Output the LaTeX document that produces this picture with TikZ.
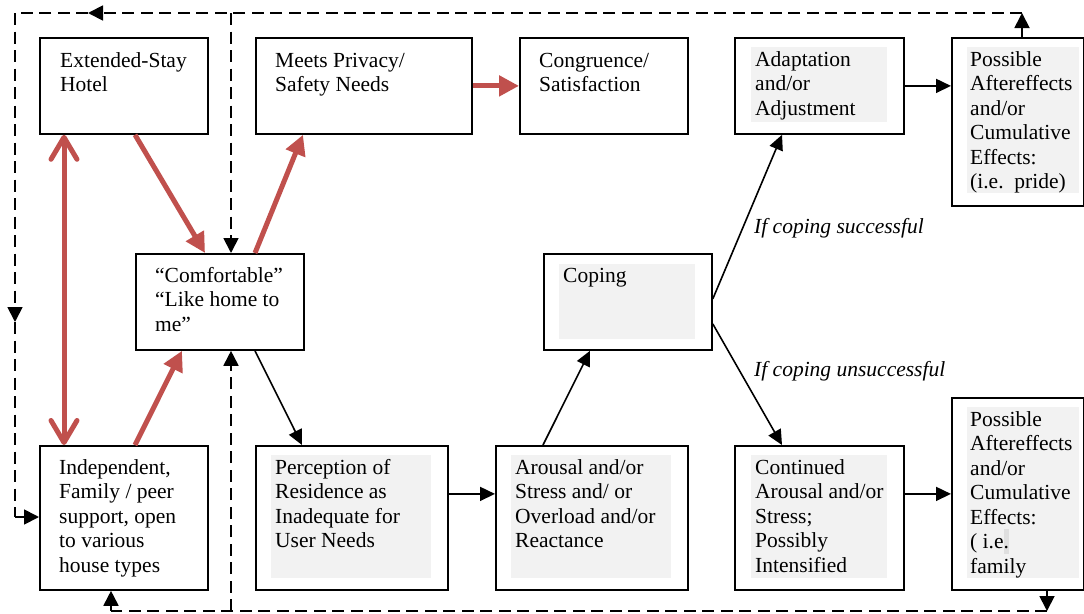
\documentclass[tikz,border=0pt]{standalone}
\usepackage{fontspec}
\setmainfont{Liberation Serif}
\usetikzlibrary{arrows.meta}
\definecolor{hotred}{HTML}{C0504D}
\definecolor{boxgray}{HTML}{F2F2F2}
\newcommand\mlines[1]{\begin{tabular}[t]{@{}l@{}}#1\end{tabular}}
\begin{document}
\begin{tikzpicture}[x=1pt,y=-1pt,
  box/.style={draw=black, line width=1.8pt, inner sep=0pt, anchor=north west},
  txt/.style={anchor=base west, inner sep=0pt, font=\fontsize{21.5}{24.5}\selectfont},
  lbl/.style={anchor=base west, inner sep=0pt, font=\fontsize{21.5}{24.5}\selectfont\itshape},
  thinarrow/.style={line width=1.6pt, -{Triangle[length=15pt,width=14pt]}},
  hot/.style={draw=hotred, line width=5pt, -{Triangle[length=20pt,width=20pt]}},
  fb/.style={line width=1.8pt, dash pattern=on 12pt off 6.5pt},
  fbtip/.style={-{Triangle[length=15pt,width=15pt]}},
  graybg/.style={fill=boxgray, draw=none}
]
\useasboundingbox (0,0) rectangle (1084,613);

% grey text backgrounds
\fill[graybg] (271,455) rectangle (431,578);
\fill[graybg] (511,455) rectangle (671,578);
\fill[graybg] (559,264) rectangle (695,339);
\fill[graybg] (751,47) rectangle (887,122);
\fill[graybg] (967,47) rectangle (1079,193);
\fill[graybg] (751,455) rectangle (887,578);
\fill[graybg] (967,407) rectangle (1079,578);
\fill[gray!25] (1004,529) rectangle (1009,554);

% boxes
\node[box, minimum width=168pt, minimum height=96pt] (hotel) at (39,37) {};
\node[box, minimum width=216pt, minimum height=96pt] (privacy) at (255,37) {};
\node[box, minimum width=168pt, minimum height=96pt] (congr) at (519,37) {};
\node[box, minimum width=169pt, minimum height=96pt] (adapt) at (734,37) {};
\node[box, minimum width=132pt, minimum height=168pt] (after1) at (951,37) {};
\node[box, minimum width=168pt, minimum height=96pt] (comf) at (135,253) {};
\node[box, minimum width=168pt, minimum height=96pt] (coping) at (543,253) {};
\node[box, minimum width=168pt, minimum height=144pt] (indep) at (39,445) {};
\node[box, minimum width=192pt, minimum height=144pt] (percep) at (255,445) {};
\node[box, minimum width=192pt, minimum height=144pt] (arous) at (495,445) {};
\node[box, minimum width=169pt, minimum height=144pt] (contin) at (734,445) {};
\node[box, minimum width=132pt, minimum height=192pt] (after2) at (951,397) {};

% texts
\node[txt] (t-hotel) at (60,67) {\mlines{Extended-Stay\\Hotel}};
\node[txt] (t-privacy) at (275,67) {\mlines{Meets Privacy/\\Safety Needs}};
\node[txt] (t-congr) at (539,67) {\mlines{Congruence/\\Satisfaction}};
\node[txt] (t-adapt) at (755,66) {\mlines{Adaptation\\and/or\\Adjustment}};
\node[txt] (t-after1) at (970,66) {\mlines{Possible\\Aftereffects\\and/or\\Cumulative\\Effects:\\(i.e.\ \ pride)}};
\node[txt] (t-comf) at (155,282) {\mlines{``Comfortable''\\``Like home to\\me''}};
\node[txt] (t-coping) at (563,282) {Coping};
\node[txt] (t-indep) at (59,474) {\mlines{Independent,\\Family / peer\\support, open\\to various\\house types}};
\node[txt] (t-percep) at (275,474) {\mlines{Perception of\\Residence as\\Inadequate for\\User Needs}};
\node[txt] (t-arous) at (515,474) {\mlines{Arousal and/or\\Stress and/ or\\Overload and/or\\Reactance}};
\node[txt] (t-contin) at (755,474) {\mlines{Continued\\Arousal and/or\\Stress;\\Possibly\\Intensified}};
\node[txt] (t-after2) at (970,426) {\mlines{Possible\\Aftereffects\\and/or\\Cumulative\\Effects:\\( i.e.\\family}};
\node[lbl] (l-succ) at (754,233) {If coping successful};
\node[lbl] (l-unsucc) at (754,376) {If coping unsuccessful};

% red arrows
\draw[draw=hotred, line width=5pt, {Straight Barb[length=22pt,width=26pt,round]}-{Straight Barb[length=22pt,width=26pt,round]}]
  ([xshift=25pt]hotel.south west) -- ([xshift=25pt]indep.north west);
\draw[hot] ([xshift=96pt]hotel.south west) -- ([xshift=70pt]comf.north west);
\draw[hot] ([xshift=120pt]comf.north west) -- ([xshift=48pt]privacy.south west);
\draw[hot] (privacy.east) -- (congr.west);
\draw[hot] ([xshift=96pt]indep.north west) -- ([xshift=47pt]comf.south west);

% black arrows
\draw[thinarrow] ([xshift=120pt]comf.south west) -- ([xshift=47pt]percep.north west);
\path ([yshift=24pt]percep.east) coordinate (pe);
\draw[thinarrow] (pe) -- (pe -| arous.west);
\draw[thinarrow] ([xshift=48pt]arous.north west) -- ([xshift=47pt]coping.south west);
\draw[thinarrow] ([yshift=3pt]coping.east) -- ([xshift=48pt]adapt.south west);
\draw[thinarrow] ([yshift=-22pt]coping.east) -- ([xshift=48pt]contin.north west);
\draw[thinarrow] (adapt.east) -- (adapt.east -| after1.west);
\path ([yshift=24pt]contin.east) coordinate (ce);
\draw[thinarrow] (ce) -- (ce -| after2.west);

% dashed feedback loops
\coordinate (tr) at (1022,13);
\coordinate (tl) at (15,13);
\coordinate (tmid) at (88,13);
\coordinate (tbr) at (231,13);
\coordinate (lmid) at (15,322);
\coordinate (bl) at (15,517);
\coordinate (br) at (1047,611);
\coordinate (bb) at (231,611);
\coordinate (bi) at (111,611);

\draw[fb, fbtip] ([xshift=71pt]after1.north west) -- (tr);
\draw[fb, fbtip] (tr) -- (tmid);
\draw[fb] (tmid) -- (tl);
\draw[fb, fbtip] (tl) -- (lmid);
\draw[fb] (lmid) -- (bl);
\draw[fb, fbtip] (bl) -- (bl -| indep.west);
\draw[fb, fbtip] (tbr) -- ([xshift=96pt]comf.north west);

\draw[fb, fbtip] ([xshift=96pt]after2.south west) -- (br);
\draw[fb] (br) -- (bi);
\draw[fb, fbtip] (bi) -- ([xshift=72pt]indep.south west);
\draw[fb, fbtip] (bb) -- ([xshift=96pt]comf.south west);
\end{tikzpicture}
\end{document}
